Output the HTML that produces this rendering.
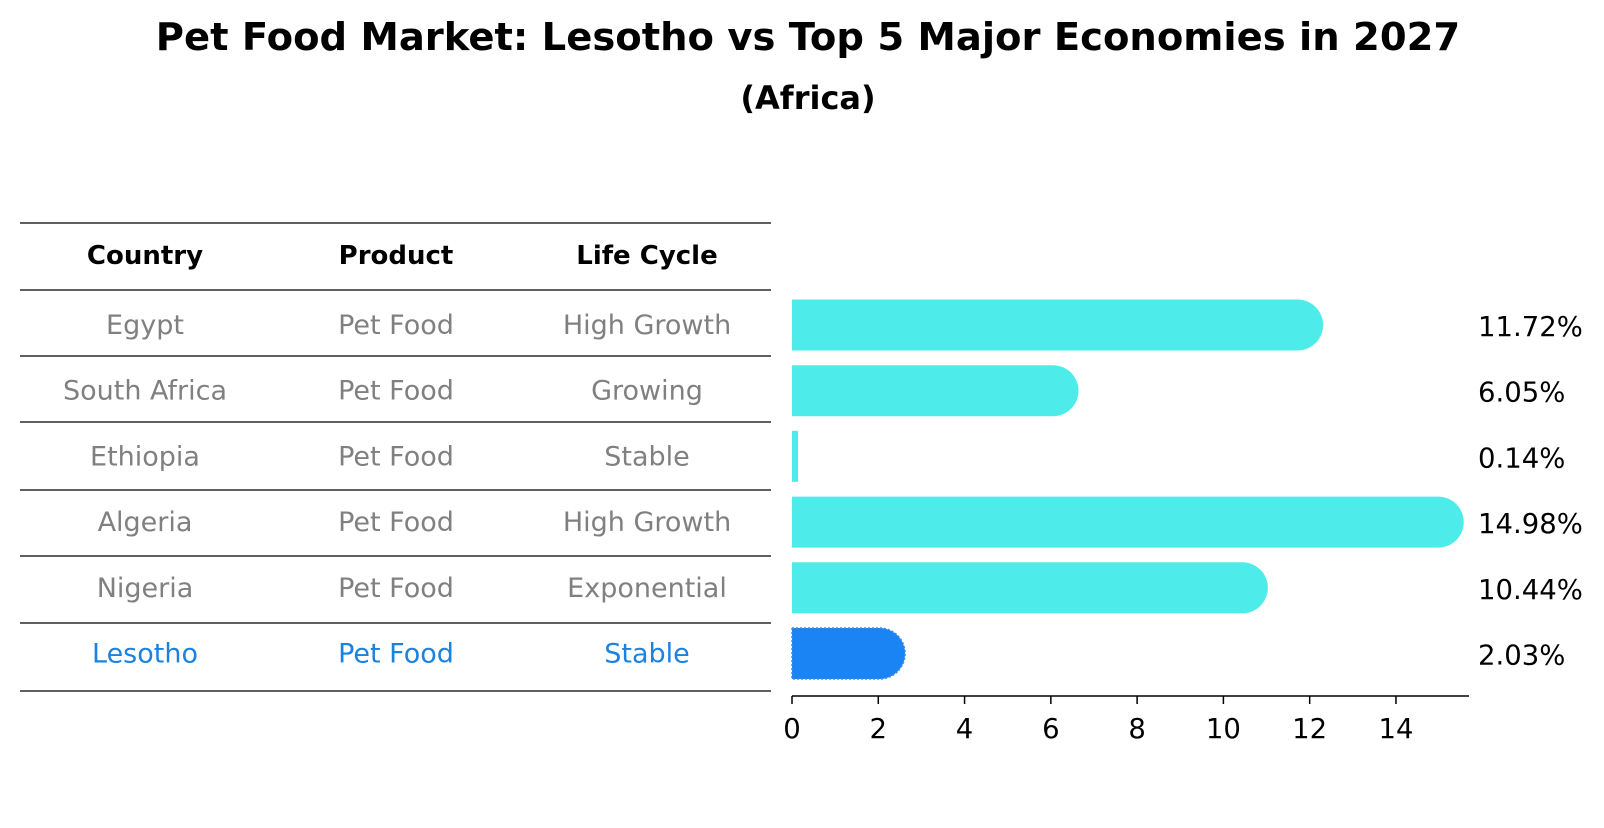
<!DOCTYPE html>
<html><head><meta charset="utf-8"><style>
body{margin:0;background:#fff;}
svg text{font-family:"DejaVu Sans","Liberation Sans",sans-serif;}
</style></head><body>
<svg width="1604" height="823" xmlns="http://www.w3.org/2000/svg">
<text x="808" y="50" text-anchor="middle" font-size="38.5" font-weight="bold">Pet Food Market: Lesotho vs Top 5 Major Economies in 2027</text>
<text x="808" y="109" text-anchor="middle" font-size="32" font-weight="bold">(Africa)</text>
<g id="table"></g>
<g id="bars"></g>
<g id="axis"></g>
</svg>
<script>
const countries=["Egypt","South Africa","Ethiopia","Algeria","Nigeria","Lesotho"];
const products=["Pet Food","Pet Food","Pet Food","Pet Food","Pet Food","Pet Food"];
const lifecycles=["High Growth","Growing","Stable","High Growth","Exponential","Stable"];
const values=[11.72,6.05,0.14,14.98,10.44,2.03];
const ticks=[0,2,4,6,8,10,12,14];
const NS="http://www.w3.org/2000/svg";
function mk(tag,attrs,parent,txt){const e=document.createElementNS(NS,tag);for(const k in attrs)e.setAttribute(k,attrs[k]);if(txt!==undefined)e.textContent=txt;parent.appendChild(e);return e;}
const x0=792,scale=43.14;
const xs=v=>x0+v*scale;
const rowY=i=>325+i*65.7;
const table=document.getElementById('table');
const colX=[145,396,647];
const lineYs=[223,290,356,422,490,556,623,691];
lineYs.forEach((y)=>{const l=mk('line',{x1:20,x2:771,y1:y,y2:y,stroke:'#000','stroke-width':1.2},table);

});
["Country","Product","Life Cycle"].forEach((h,j)=>{const t=mk('text',{x:colX[j],y:264,'text-anchor':'middle','font-size':26,'font-weight':'bold'},table,h);

});
countries.forEach((c,i)=>{
  const col=i===countries.length-1?'#1a82e0':'#808080';
  [c,products[i],lifecycles[i]].forEach((v,j)=>{
    const t=mk('text',{x:colX[j],y:rowY(i)+9,'text-anchor':'middle','font-size':27,fill:col},table,v);
    
    
  });
});
const bars=document.getElementById('bars');
values.forEach((v,i)=>{
  const w=xs(v)-x0, cy=rowY(i), h=51, r=w<20?0:25.5;
  const last=i===values.length-1;
  const d=r?`M${x0},${cy-h/2} H${x0+w} A${r},${r} 0 0 1 ${x0+w},${cy+h/2} H${x0} Z`:`M${x0},${cy-h/2} H${x0+w} V${cy+h/2} H${x0} Z`;
  const p=mk('path',{d:d,fill:last?'#1a84f5':'#4deceb'},bars);
  if(last){p.setAttribute('stroke','#3c8ee0');p.setAttribute('stroke-dasharray','2,2');p.setAttribute('stroke-width','1.5');}
  
  
  const t=mk('text',{x:1478,y:cy+11,'font-size':27.5},bars,v.toFixed(2)+'%');
  
  
});
const axis=document.getElementById('axis');
const al=mk('line',{x1:x0,x2:1469,y1:696,y2:696,stroke:'#000','stroke-width':1.5},axis);


ticks.forEach(v=>{
  const tk=mk('line',{x1:xs(v),x2:xs(v),y1:696,y2:704,stroke:'#000','stroke-width':1.5},axis);
  
  
  const t=mk('text',{x:xs(v),y:738,'text-anchor':'middle','font-size':27.5},axis,String(v));
  
  
});
</script>
</body></html>
